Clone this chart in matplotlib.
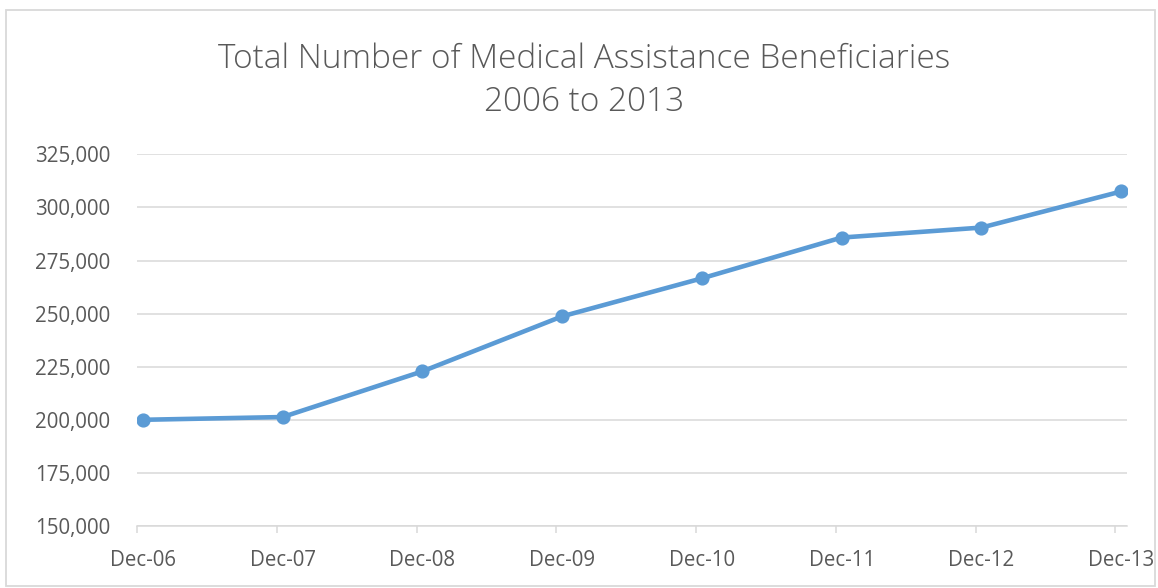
import matplotlib
matplotlib.use("Agg")
import matplotlib.pyplot as plt
from matplotlib.patches import Rectangle
from matplotlib.ticker import FuncFormatter, FixedLocator
import numpy as np
from matplotlib import font_manager

categories = ["Dec-06", "Dec-07", "Dec-08", "Dec-09", "Dec-10", "Dec-11", "Dec-12", "Dec-13"]
beneficiaries = [200000, 201300, 222800, 248700, 266600, 285800, 290500, 307500]
y_ticks = [150000, 175000, 200000, 225000, 250000, 275000, 300000, 325000]
title = "Total Number of Medical Assistance Beneficiaries\n2006 to 2013"

names = {f.name for f in font_manager.fontManager.ttflist}
fam = "Open Sans" if "Open Sans" in names else "DejaVu Sans"
plt.rcParams["font.family"] = [fam, "DejaVu Sans"]

W, H, DPI = 1158, 588, 100
fig = plt.figure(figsize=(W / DPI, H / DPI), dpi=DPI)
fig.patch.set_facecolor("white")

# outer chart border
fig.patches.append(Rectangle((6 / W, 2 / H), (1155 - 6) / W, (586 - 10) / H,
                             transform=fig.transFigure, fill=False,
                             edgecolor="#D9D9D9", linewidth=1.3))

ax = fig.add_axes([137 / W, 1 - 526 / H, (1127 - 137) / W, (526 - 154.3) / H])

# months since Dec 2006; each point in the middle of its month band
x = np.arange(len(categories)) * 12
line_color = "#5B9BD5"
ax.plot(x, beneficiaries, color=line_color, linewidth=3.3, marker="o",
        markersize=9.2, markerfacecolor=line_color, markeredgecolor=line_color,
        solid_capstyle="round", zorder=3)

ax.set_xlim(-0.5, 12 * (len(categories) - 1) + 0.5)
ax.set_ylim(y_ticks[0], y_ticks[-1])

ax.set_yticks(y_ticks)
ax.yaxis.set_major_formatter(FuncFormatter(lambda v, p: f"{int(v):,}"))
ax.set_xticks(x)
ax.set_xticklabels(categories)
ax.xaxis.set_minor_locator(FixedLocator(list(x - 0.5)))

grid_c = "#D9D9D9"
ax.grid(axis="y", color=grid_c, linewidth=1.1, zorder=0)
ax.set_axisbelow(True)
for s in ["top", "right", "left"]:
    ax.spines[s].set_visible(False)
ax.spines["bottom"].set_color(grid_c)
ax.spines["bottom"].set_linewidth(1.1)

ax.tick_params(axis="y", length=0, pad=19, labelsize=14.8, labelcolor="#595959")
ax.tick_params(axis="x", which="major", length=0, pad=17, labelsize=14.8, labelcolor="#595959")
ax.tick_params(axis="x", which="minor", length=5, width=1.1, color=grid_c)

fig.text(0.504, 0.862, title, ha="center", va="center", fontsize=24,
         color="#595959", fontweight="light", linespacing=1.38)

fig.savefig("out.png", dpi=DPI, facecolor="white")
